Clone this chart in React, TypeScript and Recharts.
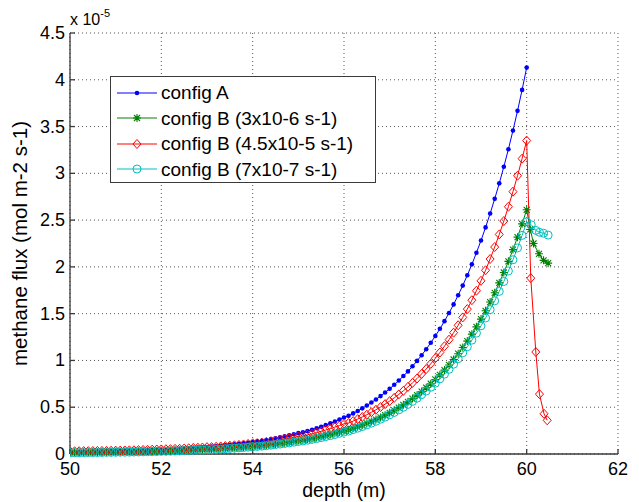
import { LineChart, Line, XAxis, YAxis, CartesianGrid, Legend } from 'recharts';

// depth grid (m), one sample every 0.1 m up to the peak
const depth = [
  50.0, 50.1, 50.2, 50.3, 50.4, 50.5, 50.6, 50.7, 50.8, 50.9,
  51.0, 51.1, 51.2, 51.3, 51.4, 51.5, 51.6, 51.7, 51.8, 51.9,
  52.0, 52.1, 52.2, 52.3, 52.4, 52.5, 52.6, 52.7, 52.8, 52.9,
  53.0, 53.1, 53.2, 53.3, 53.4, 53.5, 53.6, 53.7, 53.8, 53.9,
  54.0, 54.1, 54.2, 54.3, 54.4, 54.5, 54.6, 54.7, 54.8, 54.9,
  55.0, 55.1, 55.2, 55.3, 55.4, 55.5, 55.6, 55.7, 55.8, 55.9,
  56.0, 56.1, 56.2, 56.3, 56.4, 56.5, 56.6, 56.7, 56.8, 56.9,
  57.0, 57.1, 57.2, 57.3, 57.4, 57.5, 57.6, 57.7, 57.8, 57.9,
  58.0, 58.1, 58.2, 58.3, 58.4, 58.5, 58.6, 58.7, 58.8, 58.9,
  59.0, 59.1, 59.2, 59.3, 59.4, 59.5, 59.6, 59.7, 59.8, 59.9,
  60.0,
];

// methane flux, in units of 1e-5 mol m-2 s-1
const configA = [
  0.021, 0.022, 0.022, 0.023, 0.024, 0.025, 0.026, 0.027, 0.028, 0.029,
  0.030, 0.031, 0.032, 0.034, 0.035, 0.037, 0.038, 0.040, 0.042, 0.044,
  0.046, 0.048, 0.050, 0.053, 0.055, 0.058, 0.061, 0.065, 0.068, 0.071,
  0.075, 0.079, 0.083, 0.088, 0.093, 0.098, 0.103, 0.108, 0.114, 0.121,
  0.128, 0.135, 0.142, 0.150, 0.159, 0.168, 0.178, 0.188, 0.199, 0.211,
  0.223, 0.231, 0.245, 0.259, 0.275, 0.291, 0.309, 0.327, 0.347, 0.368,
  0.390, 0.408, 0.434, 0.460, 0.488, 0.518, 0.550, 0.583, 0.619, 0.657,
  0.697, 0.740, 0.785, 0.833, 0.883, 0.938, 0.995, 1.056, 1.120, 1.189,
  1.261, 1.338, 1.420, 1.507, 1.599, 1.697, 1.800, 1.910, 2.027, 2.151,
  2.282, 2.422, 2.570, 2.727, 2.893, 3.070, 3.258, 3.457, 3.668, 3.892,
  4.130,
];

const configB3e6 = [
  0.019, 0.019, 0.020, 0.020, 0.021, 0.021, 0.022, 0.022, 0.023, 0.024,
  0.025, 0.025, 0.026, 0.027, 0.028, 0.029, 0.030, 0.031, 0.032, 0.033,
  0.035, 0.036, 0.037, 0.039, 0.040, 0.042, 0.044, 0.047, 0.049, 0.051,
  0.053, 0.054, 0.056, 0.059, 0.062, 0.066, 0.069, 0.072, 0.076, 0.080,
  0.085, 0.087, 0.091, 0.096, 0.102, 0.108, 0.114, 0.120, 0.127, 0.135,
  0.143, 0.148, 0.157, 0.166, 0.176, 0.186, 0.197, 0.209, 0.221, 0.234,
  0.248, 0.258, 0.274, 0.291, 0.308, 0.327, 0.348, 0.368, 0.391, 0.415,
  0.440, 0.467, 0.496, 0.526, 0.558, 0.592, 0.629, 0.667, 0.708, 0.751,
  0.797, 0.846, 0.897, 0.952, 1.010, 1.072, 1.138, 1.207, 1.281, 1.359,
  1.442, 1.531, 1.624, 1.723, 1.829, 1.940, 2.059, 2.185, 2.318, 2.460,
  2.610,
];

const configB45e5 = [
  0.029, 0.029, 0.030, 0.031, 0.031, 0.032, 0.033, 0.033, 0.034, 0.035,
  0.036, 0.037, 0.038, 0.039, 0.040, 0.042, 0.043, 0.044, 0.046, 0.048,
  0.049, 0.051, 0.052, 0.055, 0.056, 0.059, 0.061, 0.065, 0.067, 0.069,
  0.073, 0.074, 0.077, 0.081, 0.085, 0.089, 0.093, 0.097, 0.102, 0.108,
  0.114, 0.116, 0.122, 0.129, 0.136, 0.143, 0.151, 0.159, 0.168, 0.178,
  0.188, 0.193, 0.205, 0.216, 0.229, 0.242, 0.257, 0.271, 0.287, 0.304,
  0.322, 0.331, 0.352, 0.373, 0.396, 0.420, 0.446, 0.473, 0.502, 0.533,
  0.565, 0.600, 0.637, 0.675, 0.717, 0.760, 0.807, 0.856, 0.908, 0.964,
  1.023, 1.085, 1.152, 1.222, 1.297, 1.376, 1.460, 1.549, 1.644, 1.745,
  1.851, 1.964, 2.084, 2.212, 2.347, 2.490, 2.643, 2.804, 2.975, 3.157,
  3.350,
];

const configB7e7 = [
  0.013, 0.013, 0.013, 0.014, 0.014, 0.015, 0.015, 0.016, 0.017, 0.017,
  0.018, 0.019, 0.019, 0.020, 0.021, 0.022, 0.023, 0.024, 0.025, 0.026,
  0.028, 0.029, 0.030, 0.032, 0.033, 0.035, 0.037, 0.039, 0.041, 0.043,
  0.045, 0.047, 0.050, 0.053, 0.056, 0.059, 0.062, 0.065, 0.068, 0.073,
  0.077, 0.080, 0.084, 0.089, 0.094, 0.100, 0.106, 0.112, 0.118, 0.126,
  0.133, 0.139, 0.147, 0.156, 0.165, 0.175, 0.186, 0.196, 0.208, 0.221,
  0.234, 0.245, 0.261, 0.276, 0.293, 0.311, 0.330, 0.350, 0.372, 0.394,
  0.419, 0.444, 0.471, 0.500, 0.530, 0.563, 0.597, 0.634, 0.673, 0.714,
  0.757, 0.803, 0.853, 0.905, 0.960, 1.019, 1.081, 1.147, 1.217, 1.292,
  1.370, 1.454, 1.543, 1.637, 1.738, 1.844, 1.956, 2.076, 2.203, 2.337,
  2.480,
];

// the config B runs continue a little past 60 m
const b3e6TailDepth = [60.08, 60.15, 60.27, 60.37, 60.47];
const b3e6TailFlux = [2.40, 2.25, 2.14, 2.07, 2.04];
const b45e5TailDepth = [60.09, 60.2, 60.28, 60.38, 60.45];
const b45e5TailFlux = [1.88, 1.09, 0.64, 0.43, 0.36];
const b7e7TailDepth = [60.1, 60.2, 60.28, 60.37, 60.47];
const b7e7TailFlux = [2.45, 2.39, 2.37, 2.36, 2.34];

const xTicks = [50, 52, 54, 56, 58, 60, 62];
const yTicks = [0, 0.5, 1, 1.5, 2, 2.5, 3, 3.5, 4, 4.5];

const FONT = '"Liberation Sans", Arial, Helvetica, sans-serif';
const FRAME = '#3a3a3a';

const toRows = (xs: number[], ys: number[]) => xs.map((d, i) => ({ depth: d, flux: ys[i] }));

const dataA = toRows(depth, configA);
const dataB1 = toRows([...depth, ...b3e6TailDepth], [...configB3e6, ...b3e6TailFlux]);
const dataB2 = toRows([...depth, ...b45e5TailDepth], [...configB45e5, ...b45e5TailFlux]);
const dataB3 = toRows([...depth, ...b7e7TailDepth], [...configB7e7, ...b7e7TailFlux]);

type Kind = 'dot' | 'star' | 'diamond' | 'circle';

const Marker = ({ kind, cx, cy, color }: { kind: Kind; cx: number; cy: number; color: string }) => {
  if (cx == null || cy == null) return null;
  if (kind === 'dot') return <circle cx={cx} cy={cy} r={2.3} fill={color} />;
  if (kind === 'star')
    return (
      <path
        d={`M${cx - 4},${cy}H${cx + 4}M${cx},${cy - 4}V${cy + 4}M${cx - 3},${cy - 3}L${cx + 3},${cy + 3}M${cx - 3},${cy + 3}L${cx + 3},${cy - 3}`}
        stroke={color}
        strokeWidth={1.1}
        fill="none"
      />
    );
  if (kind === 'diamond')
    return <path d={`M${cx},${cy - 4.5}L${cx + 4},${cy}L${cx},${cy + 4.5}L${cx - 4},${cy}Z`} stroke={color} fill="none" />;
  return <circle cx={cx} cy={cy} r={4} stroke={color} fill="none" />;
};

const series = [
  { name: 'config A', color: '#0000ff', kind: 'dot' as Kind, data: dataA },
  { name: 'config B (3x10-6 s-1)', color: '#008000', kind: 'star' as Kind, data: dataB1 },
  { name: 'config B (4.5x10-5 s-1)', color: '#ff0000', kind: 'diamond' as Kind, data: dataB2 },
  { name: 'config B (7x10-7 s-1)', color: '#00bfbf', kind: 'circle' as Kind, data: dataB3 },
];

const XTick = ({ x, y, payload }: any) => (
  <text x={x} y={y + 20.5} textAnchor="middle" fontSize={18} fontFamily={FONT} fill="#000">
    {payload.value}
  </text>
);

const YTick = ({ x, y, payload }: any) => (
  <text x={x} y={y + 6} textAnchor="end" fontSize={18} fontFamily={FONT} fill="#000">
    {payload.value}
  </text>
);

const LegendBox = () => (
  <div
    style={{
      boxSizing: 'border-box',
      width: 266,
      height: 107,
      border: `1px solid ${FRAME}`,
      background: '#fff',
      paddingTop: 3,
      fontFamily: FONT,
    }}
  >
    {series.map((s) => (
      <div key={s.name} style={{ display: 'flex', alignItems: 'center', height: 25.5 }}>
        <svg width={40} height={14} style={{ marginLeft: 6, flex: 'none' }}>
          <line x1={0} y1={7} x2={40} y2={7} stroke={s.color} strokeWidth={1} />
          <Marker kind={s.kind} cx={20} cy={7} color={s.color} />
        </svg>
        <span style={{ marginLeft: 4, fontSize: 19, lineHeight: 1, whiteSpace: 'nowrap', color: '#000' }}>{s.name}</span>
      </div>
    ))}
  </div>
);

export default function App() {
  return (
    <div style={{ position: 'absolute', left: 0, top: 0, width: 639, height: 502, background: '#fff' }}>
      <LineChart width={639} height={502} margin={{ top: 33, right: 21, bottom: 0, left: 0 }}>
        <CartesianGrid stroke="#555" strokeDasharray="1 3" />
        <XAxis
          dataKey="depth"
          type="number"
          domain={[50, 62]}
          ticks={xTicks}
          interval={0}
          height={48}
          allowDataOverflow
          stroke={FRAME}
          strokeWidth={1.3}
          tickSize={-5}
          tickMargin={5}
          tick={<XTick />}
          label={{ value: 'depth (m)', position: 'insideBottom', offset: 5, fontSize: 19.5, fontFamily: FONT, fill: '#000' }}
        />
        <XAxis
          xAxisId="top"
          orientation="top"
          dataKey="depth"
          type="number"
          domain={[50, 62]}
          ticks={xTicks}
          interval={0}
          height={0}
          stroke={FRAME}
          strokeWidth={1.3}
          tickSize={-5}
          tick={false}
        />
        <YAxis
          type="number"
          domain={[0, 4.5]}
          ticks={yTicks}
          interval={0}
          width={70}
          stroke={FRAME}
          strokeWidth={1.3}
          tickSize={-5}
          tickMargin={10}
          tick={<YTick />}
          label={{
            value: 'methane flux (mol m-2 s-1)',
            angle: -90,
            position: 'center',
            dx: -15,
            fontSize: 20.5,
            fontFamily: FONT,
            fill: '#000',
          }}
        />
        <YAxis
          yAxisId="right"
          orientation="right"
          type="number"
          domain={[0, 4.5]}
          ticks={yTicks}
          interval={0}
          width={0}
          stroke={FRAME}
          strokeWidth={1.3}
          tickSize={-5}
          tick={false}
        />
        <Legend
          content={<LegendBox />}
          layout="vertical"
          align="center"
          verticalAlign="middle"
          wrapperStyle={{ left: 110, top: 76, width: 266, height: 107 }}
        />
        {series.map((s) => (
          <Line
            key={s.name}
            name={s.name}
            data={s.data}
            dataKey="flux"
            type="linear"
            stroke={s.color}
            strokeWidth={1}
            isAnimationActive={false}
            dot={(p: any) => <Marker key={`${s.kind}-${p.index}`} kind={s.kind} cx={p.cx} cy={p.cy} color={s.color} />}
            activeDot={false}
          />
        ))}
      </LineChart>
      <div style={{ position: 'absolute', left: 70, top: 11, fontFamily: FONT, fontSize: 16, lineHeight: 1.15, color: '#000' }}>
        x 10
        <span style={{ fontSize: 11, position: 'relative', top: -8 }}>-5</span>
      </div>
    </div>
  );
}
